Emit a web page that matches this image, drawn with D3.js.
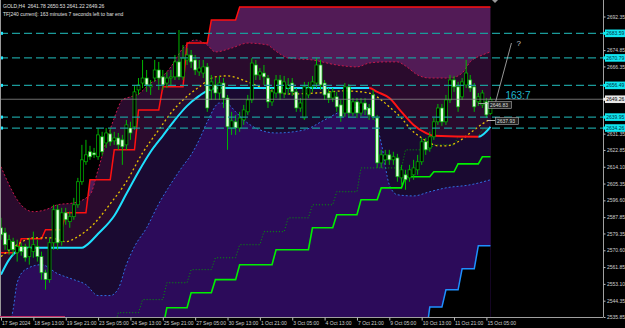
<!DOCTYPE html>
<html><head><meta charset="utf-8">
<script src="https://cdn.jsdelivr.net/npm/d3@7"></script>
<style>
html,body{margin:0;padding:0;background:#000;overflow:hidden;}
svg{display:block;}
text{font-family:"Liberation Sans",Arial,sans-serif;white-space:pre;}
</style></head><body>
<svg id="c" width="625" height="328"></svg>
<script>
// ---------- DATA ----------
const symbolTitle = "GOLD,H4  2641.78 2650.53 2641.22 2649.26";
const timerText = "TF[240 current]: 163 minutes 7 seconds left to bar end";
const opens  = [2582.3,2579.7,2570.9,2575.1,2569.3,2572.5,2572.5,2567.3,2569.9,2572.5,2567.3,2558.9,2555.3,2574.5,2591.7,2575.1,2590.1,2585.5,2588.1,2594.3,2606.3,2616.7,2621.9,2621.3,2619.3,2629.7,2626.5,2631.2,2627.6,2629.1,2628.1,2625.5,2634.3,2634.9,2654.1,2657.7,2660.3,2655.7,2660.3,2664.5,2660.9,2657.7,2660.3,2660.9,2668.7,2660.9,2669.7,2672.3,2669.7,2663.5,2662.9,2666.1,2654.1,2656.7,2652.5,2657.7,2649.9,2634.3,2637.5,2634.3,2638.5,2642.7,2648.9,2667.1,2661.9,2662.9,2660.3,2647.9,2652.5,2659.3,2652.5,2655.1,2657.7,2653.1,2644.7,2639.5,2651.5,2655.7,2657.7,2667.1,2657.7,2652.5,2649.9,2650.5,2646.3,2642.1,2655.7,2642.1,2647.9,2642.1,2647.3,2644.7,2651.5,2639.5,2616.1,2617.7,2620.3,2617.7,2618.7,2608.3,2609.9,2608.3,2609.9,2612.5,2616.7,2627.1,2623.9,2629.7,2637.5,2644.7,2637.5,2648.9,2659.3,2655.7,2650.5,2656.7,2659.3,2655.7,2647.9,2646.3,2647.9,2641.78];
const highs  = [2587.5,2582.3,2578.7,2577.1,2576.1,2574.5,2574.0,2577.1,2580.3,2576.1,2569.9,2560.5,2577.1,2594.3,2594.3,2592.7,2592.7,2590.7,2597.9,2608.3,2625.5,2628.1,2625.0,2623.9,2634.3,2632.3,2634.3,2634.3,2632.3,2631.7,2630.7,2638.5,2637.5,2656.7,2660.3,2669.7,2664.5,2659.3,2669.7,2668.7,2664.5,2663.5,2664.5,2672.3,2685.3,2677.5,2675.9,2674.9,2672.3,2669.7,2669.7,2668.1,2661.9,2660.3,2661.4,2660.3,2651.5,2642.7,2641.1,2642.7,2646.3,2651.5,2670.7,2669.7,2665.5,2667.1,2661.9,2655.1,2661.9,2661.9,2661.4,2660.3,2660.3,2655.1,2649.9,2658.3,2658.3,2661.4,2670.7,2669.7,2659.3,2655.1,2655.1,2653.1,2648.9,2657.7,2657.2,2649.9,2649.9,2649.9,2649.9,2646.8,2654.1,2641.1,2622.9,2622.9,2622.9,2621.9,2620.8,2615.1,2612.5,2615.1,2617.7,2620.3,2629.1,2629.1,2632.3,2639.5,2646.8,2646.8,2651.5,2661.9,2661.4,2658.3,2660.3,2669.7,2661.9,2657.7,2652.5,2654.1,2649.9,2650.53];
const lows   = [2576.1,2570.9,2568.3,2567.8,2564.7,2567.8,2564.7,2563.1,2566.7,2564.7,2555.3,2550.1,2553.7,2570.9,2570.9,2573.0,2583.9,2582.3,2586.5,2592.7,2604.7,2615.1,2617.7,2618.7,2617.7,2619.8,2623.9,2625.0,2625.5,2622.9,2615.1,2622.9,2628.1,2633.3,2651.5,2655.1,2653.1,2651.5,2658.3,2654.1,2654.1,2655.1,2656.7,2659.3,2659.3,2659.3,2667.1,2665.5,2661.9,2661.4,2660.3,2642.7,2648.9,2648.9,2648.9,2644.7,2622.9,2630.7,2630.7,2632.3,2635.9,2641.1,2647.3,2659.3,2659.3,2656.7,2644.7,2645.8,2649.9,2648.9,2649.9,2651.5,2651.0,2642.7,2642.7,2638.5,2649.9,2653.1,2655.1,2654.1,2648.9,2647.3,2647.9,2642.7,2637.5,2640.1,2639.5,2640.6,2639.5,2640.6,2641.1,2638.5,2638.5,2613.5,2613.5,2615.1,2615.1,2615.1,2606.3,2604.7,2602.1,2606.3,2607.3,2609.9,2615.1,2620.3,2621.9,2628.1,2635.9,2635.4,2635.9,2647.3,2653.1,2642.7,2648.9,2655.1,2653.1,2642.7,2645.8,2644.7,2639.5,2641.22];
const closes = [2578.7,2573.5,2576.1,2570.9,2572.5,2569.9,2566.7,2571.9,2573.5,2567.3,2558.9,2555.3,2574.5,2591.7,2574.5,2590.1,2586.5,2588.1,2594.3,2606.3,2617.7,2620.3,2619.3,2620.3,2630.7,2621.9,2631.7,2627.1,2629.1,2625.5,2624.5,2635.9,2631.7,2653.1,2656.7,2660.3,2656.7,2656.7,2664.5,2660.3,2656.7,2660.3,2660.9,2668.7,2660.9,2670.7,2672.3,2668.7,2664.5,2665.5,2666.1,2644.7,2658.3,2652.5,2657.7,2649.9,2634.9,2638.0,2634.3,2639.5,2643.7,2648.9,2668.1,2661.9,2663.5,2660.9,2647.9,2653.1,2659.3,2652.5,2658.3,2656.7,2653.1,2644.7,2647.3,2655.7,2655.1,2658.3,2667.1,2656.7,2651.5,2649.9,2653.1,2645.3,2640.1,2655.7,2642.1,2647.9,2642.1,2647.3,2643.7,2641.1,2640.1,2616.1,2620.3,2620.3,2617.7,2619.3,2608.9,2612.5,2607.3,2612.5,2613.5,2616.7,2627.1,2622.9,2629.7,2637.5,2644.7,2637.5,2648.9,2659.3,2655.7,2645.3,2658.3,2662.9,2655.1,2645.3,2650.5,2652.5,2641.1,2649.26];

// indicator lines: [bar index, price]
const midLine   = [[0,2557.9],[2,2565.7],[5,2571.4],[7,2571.9],[20,2571.9],[21,2573.0],[24,2579.2],[28,2588.6],[31,2600.0],[34,2611.5],[37,2621.9],[40,2630.2],[43,2638.5],[46,2645.8],[49,2651.0],[52,2654.6],[54,2655.1],[91,2655.1],[93,2653.1],[96,2649.9],[99,2642.7],[102,2635.9],[105,2631.7],[107,2630.2],[118,2629.7],[121,2634.9]];
const midDownRange = [91,118];
const signalLine = [[0,2567.3],[4,2573.5],[8,2577.1],[12,2577.1],[16,2575.1],[19,2577.7],[23,2584.4],[27,2594.8],[31,2606.3],[35,2621.3],[39,2633.3],[42,2642.1],[45,2648.9],[49,2655.7],[53,2660.9],[56,2661.4],[61,2658.3],[66,2654.1],[71,2652.0],[78,2652.5],[85,2653.6],[91,2652.5],[94,2648.9],[96,2645.3],[99,2639.5],[101,2634.3],[104,2629.1],[106,2626.5],[108,2625.0],[110,2625.0],[113,2627.1],[116,2631.7],[119,2636.4],[121,2639.0]];
const upperBand = [[0,2614.1],[2,2604.7],[4,2596.9],[6,2592.2],[8,2590.7],[11,2591.7],[14,2594.3],[18,2595.3],[22,2599.5],[24,2612.5],[26,2627.1],[28,2639.5],[30,2648.9],[32,2650.5],[34,2652.0],[37,2657.7],[40,2661.4],[42,2666.1],[45,2675.9],[48,2680.1],[51,2677.5],[53,2673.9],[57,2675.9],[61,2678.5],[66,2677.5],[67,2675.9],[69,2672.8],[71,2670.7],[77,2669.7],[83,2667.1],[88,2666.1],[91,2668.1],[95,2668.7],[98,2668.7],[100,2666.6],[103,2661.9],[106,2660.3],[111,2660.3],[114,2662.9],[116,2668.7],[119,2672.3],[121,2673.9]];
const lowerBand = [[0,2520.0],[2,2530.0],[3,2539.7],[4,2553.7],[6,2560.5],[10,2563.1],[14,2558.4],[18,2555.3],[21,2552.7],[24,2547.0],[27,2547.0],[29,2550.6],[31,2563.1],[33,2572.5],[36,2582.3],[39,2594.8],[42,2605.2],[45,2614.6],[47,2620.3],[49,2628.1],[51,2637.5],[54,2647.3],[56,2646.8],[58,2642.7],[60,2638.5],[64,2633.3],[68,2631.7],[75,2633.3],[80,2638.5],[85,2643.7],[90,2645.3],[92,2641.1],[94,2626.5],[96,2604.7],[98,2599.5],[102,2598.9],[106,2601.1],[110,2603.1],[116,2604.7],[121,2607.3]];
// step lines: [from bar, to bar, price]
const upperStop = [[0,4,2569.3],[5,10,2576.6],[11,15,2581.3],[16,21,2590.1],[22,27,2607.3],[28,33,2622.9],[34,39,2643.7],[40,45,2655.7],[46,51,2678.5],[52,58,2690.5],[59,121,2697.3]];
const lowerStop = [[0,105,2525.0],[106,109,2541.0],[110,113,2550.0],[114,117,2561.0],[118,121,2573.0]];
const supportStep = [[40,40,2530.0],[41,46,2540.7],[47,52,2548.5],[53,58,2555.3],[59,67,2563.1],[68,76,2570.9],[77,82,2582.3],[83,88,2589.1],[89,93,2596.9],[94,99,2603.1],[100,106,2608.9],[107,112,2611.5],[113,118,2615.6],[119,121,2619.3]];
const supportDotted = [[28,28,2530.0],[29,34,2538.1],[35,40,2544.9],[41,46,2553.7],[47,52,2560.5],[53,58,2566.7],[59,64,2573.5],[65,70,2580.3],[71,76,2587.5],[77,82,2594.3],[83,88,2601.1],[89,99,2613.5],[100,106,2622.9],[107,112,2625.5],[113,118,2629.7],[119,121,2633.3]];

const levelPrices = [2683.59, 2670.79, 2656.49, 2639.95, 2634.26];
const bidPrice = 2649.26;
const yTickValues = [2692.35,2674.85,2666.35,2631.35,2622.85,2614.10,2605.35,2596.60,2587.85,2579.35,2570.60,2561.85,2553.10,2544.35,2535.85];
const timeLabels = ["17 Sep 2024","18 Sep 13:00","19 Sep 21:00","23 Sep 05:00","24 Sep 13:00","25 Sep 21:00","27 Sep 05:00","30 Sep 13:00","1 Oct 21:00","3 Oct 05:00","4 Oct 13:00","7 Oct 21:00","9 Oct 05:00","10 Oct 13:00","11 Oct 21:00","15 Oct 05:00"];
const timeLabelBars = [0,8,16,24,32,40,48,56,64,72,80,88,96,104,112,120];
const noteCount = "163:7";
const noteBoxes = ["2646.83","2637.93"];

// ---------- CHART ----------
const svg = d3.select("#c");
const PR = 603, PB = 317, FS = "5px";
const nBars = opens.length;
const x = d3.scaleLinear().domain([0, nBars-1]).range([1, 1 + 4.045*(nBars-1)]);
const y = d3.scaleLinear().domain([2535.85, 2692.35]).range([PB, 16.5]);

svg.append("rect").attr("width",625).attr("height",328).attr("fill","#000");
const defs = svg.append("defs");
defs.append("clipPath").attr("id","plot").append("rect").attr("x",0).attr("y",0).attr("width",PR).attr("height",PB);
const g = svg.append("g").attr("clip-path","url(#plot)");

const expandSteps = s => s.flatMap(d => [[d[0], d[2]], [d[1], d[2]]]);
const areaBelow = (pts, curve) => d3.area().x(d=>x(d[0])).y0(PB+40).y1(d=>y(d[1])).curve(curve)(pts);
const lineOf = (pts, curve) => d3.line().x(d=>x(d[0])).y(d=>y(d[1])).curve(curve)(pts);
const smooth = d3.curveMonotoneX, lin = d3.curveLinear;

// fills (painter order)
g.append("path").attr("d", areaBelow(expandSteps(upperStop), lin)).attr("fill","#521b56");
g.append("path").attr("d", areaBelow(upperBand, smooth)).attr("fill","#2a0b2d");
g.append("path").attr("d", areaBelow(midLine, smooth)).attr("fill","#1a0a31");
g.append("path").attr("d", areaBelow(lowerBand, smooth)).attr("fill","#2c0b5a");
g.append("path").attr("d", areaBelow(expandSteps(lowerStop), lin)).attr("fill","#000");

// indicator lines
g.append("path").attr("d", lineOf(upperBand, smooth)).attr("fill","none").attr("stroke","#c8174a").attr("stroke-width",1).attr("stroke-dasharray","2,2");
g.append("path").attr("d", lineOf(lowerBand, smooth)).attr("fill","none").attr("stroke","#2f6fe0").attr("stroke-width",1).attr("stroke-dasharray","2,2");
g.append("path").attr("d", lineOf(expandSteps(upperStop), lin)).attr("fill","none").attr("stroke","#ff1010").attr("stroke-width",1.5);
g.append("path").attr("d", lineOf(expandSteps(lowerStop), lin)).attr("fill","none").attr("stroke","#1e90ff").attr("stroke-width",1.5);
g.append("path").attr("d", lineOf(expandSteps(supportDotted), lin)).attr("fill","none").attr("stroke","#00a000").attr("stroke-width",1).attr("stroke-dasharray","1,2");
g.append("path").attr("d", lineOf(expandSteps(supportStep), lin)).attr("fill","none").attr("stroke","#00f000").attr("stroke-width",1.6);
g.append("path").attr("d", lineOf(signalLine, smooth)).attr("fill","none").attr("stroke","#e6c200").attr("stroke-width",1.3).attr("stroke-dasharray","2,2.5");

// mid line coloured by trend
const xd0 = x(midDownRange[0]), xd1 = x(midDownRange[1]);
defs.append("clipPath").attr("id","upClip").selectAll("rect").data([[0,xd0],[xd1,PR]]).join("rect")
  .attr("x",d=>d[0]).attr("y",0).attr("width",d=>d[1]-d[0]).attr("height",PB);
defs.append("clipPath").attr("id","downClip").append("rect").attr("x",xd0).attr("y",0).attr("width",xd1-xd0).attr("height",PB);
const midD = lineOf(midLine, smooth);
g.append("g").attr("clip-path","url(#upClip)").append("path").attr("d",midD).attr("fill","none").attr("stroke","#1ee0ff").attr("stroke-width",2);
g.append("g").attr("clip-path","url(#downClip)").append("path").attr("d",midD).attr("fill","none").attr("stroke","#ff1414").attr("stroke-width",2);

// candles
const bars = d3.range(nBars).map(i => ({i, o:opens[i], h:highs[i], l:lows[i], c:closes[i]}));
const cg = g.append("g");
cg.selectAll("line.w").data(bars).join("line").attr("class","w")
  .attr("x1",d=>x(d.i)).attr("x2",d=>x(d.i)).attr("y1",d=>y(d.h)).attr("y2",d=>y(d.l))
  .attr("stroke","#00b800").attr("stroke-width",1);
cg.selectAll("rect.b").data(bars).join("rect").attr("class","b")
  .attr("x",d=>x(d.i)-1.5).attr("width",3)
  .attr("y",d=>y(Math.max(d.o,d.c))).attr("height",d=>Math.max(0.8, Math.abs(y(d.o)-y(d.c))))
  .attr("fill",d=>d.c>=d.o ? "#000" : "#e2fde2").attr("stroke","#00b800").attr("stroke-width",0.7);

// horizontal levels
const lv = svg.append("g");
lv.selectAll("line.lev").data(levelPrices).join("line").attr("class","lev")
  .attr("x1",0).attr("x2",PR).attr("y1",d=>y(d)).attr("y2",d=>y(d))
  .attr("stroke","#1b9a9a").attr("stroke-width",1.2).attr("stroke-dasharray","8,4");
lv.selectAll("rect.lm").data(levelPrices).join("rect").attr("class","lm")
  .attr("x",0).attr("y",d=>y(d)-1.5).attr("width",3).attr("height",3).attr("fill","#20e8ff");
lv.append("line").attr("x1",0).attr("x2",PR).attr("y1",y(bidPrice)).attr("y2",y(bidPrice)).attr("stroke","#8a8a8a").attr("stroke-width",0.8);

// frame
svg.append("line").attr("x1",0.5).attr("x2",0.5).attr("y1",0).attr("y2",PB).attr("stroke","#999").attr("stroke-width",1);
svg.append("line").attr("x1",0).attr("x2",65).attr("y1",PB-0.5).attr("y2",PB-0.5).attr("stroke","#c02a66").attr("stroke-width",1);

// axes
const yAxis = d3.axisRight(y).tickValues(yTickValues).tickFormat(d3.format(".2f")).tickSize(2).tickPadding(1.5);
const ya = svg.append("g").attr("transform",`translate(${PR+0.5},0)`).call(yAxis);
ya.select(".domain").attr("stroke","#a0a0a0").attr("d",`M0,0V${PB}`);
ya.selectAll(".tick line").attr("stroke","#bbb");
ya.selectAll(".tick text").attr("fill","#d0d0d0").attr("font-size",FS).attr("font-family","Liberation Sans, Arial, sans-serif");

const xAxis = d3.axisBottom(x).tickValues(timeLabelBars).tickFormat((d,i)=>timeLabels[i]).tickSize(3).tickPadding(1);
const xa = svg.append("g").attr("transform",`translate(0,${PB+0.5})`).call(xAxis);
xa.select(".domain").attr("stroke","#a0a0a0").attr("d",`M0,0H${PR}`);
xa.selectAll(".tick line").attr("stroke","#bbb");
xa.selectAll(".tick text").attr("fill","#d0d0d0").attr("font-size",FS).attr("text-anchor","start").attr("dx","0.5px").attr("font-family","Liberation Sans, Arial, sans-serif");

// price labels for levels and bid
const lab = svg.append("g");
const labs = levelPrices.map(p=>({p, bg:"#10e6f0", fg:"#003040"})).concat([{p:bidPrice, bg:"#e8e8e8", fg:"#000"}]);
lab.selectAll("rect").data(labs).join("rect").attr("x",PR+2).attr("y",d=>y(d.p)-3.8).attr("width",20).attr("height",7.6).attr("fill",d=>d.bg);
lab.selectAll("rect.sq").data(labs).join("rect").attr("class","sq").attr("x",PR).attr("y",d=>y(d.p)-1.5).attr("width",2.5).attr("height",3).attr("fill",d=>d.bg);
lab.selectAll("text").data(labs).join("text").attr("x",PR+3.2).attr("y",d=>y(d.p)+1.8).attr("fill",d=>d.fg)
  .attr("font-size",FS).text(d=>d.p.toFixed(2));

// header texts
svg.append("text").attr("x",3).attr("y",8).attr("fill","#e0e0e0").attr("font-size",FS).attr("xml:space","preserve").text(symbolTitle);
svg.append("text").attr("x",3).attr("y",16).attr("fill","#e0e0e0").attr("font-size",FS).text(timerText);

// chart shift marker
svg.append("path").attr("d","M492,0L498,0L495,3Z").attr("fill","#999");

// annotations near last bar
const lastX = x(nBars-1);
svg.append("line").attr("x1",lastX+4).attr("y1",y(bidPrice)+7).attr("x2",lastX+21).attr("y2",43).attr("stroke","#bdbdbd").attr("stroke-width",0.8);
svg.append("text").attr("x",lastX+26).attr("y",46).attr("fill","#c8c8c8").attr("font-size","8px").text("?");
svg.append("text").attr("x",lastX+15).attr("y",99).attr("fill","#1fb8cc").attr("font-size","10px").text(noteCount);
svg.append("line").attr("x1",lastX-12).attr("x2",lastX).attr("y1",103.5).attr("y2",103.5).attr("stroke","#bbb").attr("stroke-width",0.8);
svg.append("line").attr("x1",lastX-3).attr("x2",lastX+5).attr("y1",120.5).attr("y2",120.5).attr("stroke","#ddd").attr("stroke-width",0.8);
const nb = svg.append("g");
const boxPos = [[lastX-2, 101.5],[lastX+5, 117.5]];
noteBoxes.forEach((t,k)=>{
  nb.append("rect").attr("x",boxPos[k][0]).attr("y",boxPos[k][1]).attr("width",23).attr("height",7).attr("fill","#202020").attr("stroke","#b0b0b0").attr("stroke-width",0.6);
  nb.append("text").attr("x",boxPos[k][0]+1.5).attr("y",boxPos[k][1]+5.3).attr("fill","#d8d8d8").attr("font-size","5px").text(t);
});
</script>
</body></html>
